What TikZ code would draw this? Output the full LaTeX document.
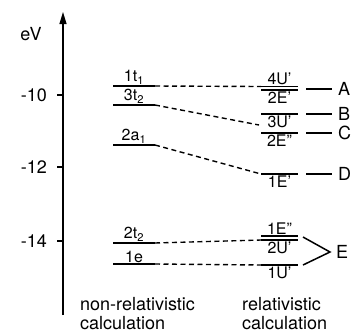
\documentclass[tikz,border=0pt]{standalone}
\usepackage{fontspec}
\setmainfont{TeX Gyre Heros}
\usetikzlibrary{arrows.meta}
\begin{document}
\begin{tikzpicture}[x=1pt,y=-1pt,
  level/.style={line width=1.5pt},
  conn/.style={line width=1.4pt, dash pattern=on 5pt off 3.5pt},
  lab/.style={font=\fontsize{16}{18}\selectfont, inner sep=1pt},
  big/.style={font=\fontsize{18}{20}\selectfont, inner sep=0pt},
  tick/.style={line width=1.2pt}]
\useasboundingbox (0,0) rectangle (351,333);
\clip (0,0) rectangle (351,333);
% axis
\coordinate (ab) at (63,315);
\coordinate (at) at (63,12);
\draw[line width=1.2pt, -{Triangle[length=12pt,width=7pt]}] (ab) -- (at);
\node[big] (ev) at (31,34) {eV};
\node[big, anchor=east] (t10) at (47,95) {-10};
\node[big, anchor=east] (t12) at (47,167) {-12};
\node[big, anchor=east] (t14) at (47,241) {-14};
\draw[tick] (57,95) -- (63,95);
\draw[tick] (57,167) -- (63,167);
\draw[tick] (57,241) -- (63,241);
% left levels
\foreach \n/\y in {a/86,b/105,c/145,d/243,e/264}{
  \coordinate (L\n1) at (113,\y);
  \coordinate (L\n2) at (155,\y);
}
\draw[level] (La1) -- (La2) node[lab, midway, above] (la) {1t\textsubscript{1}};
\draw[level] (Lb1) -- (Lb2) node[lab, midway, above] (lb) {3t\textsubscript{2}};
\draw[level] (Lc1) -- (Lc2) node[lab, midway, above] (lc) {2a\textsubscript{1}};
\draw[level] (Ld1) -- (Ld2) node[lab, midway, above] (ld) {2t\textsubscript{2}};
\draw[level] (Le1) -- (Le2) node[lab, midway, above] (le) {1e};
% right levels
\foreach \n/\y in {a/86.5,b/90,c/114,d/133,e/174,f/236,g/240,h/265}{
  \coordinate (R\n1) at (261,\y);
  \coordinate (R\n2) at (298,\y);
}
\draw[level] (Ra1) -- (Ra2) node[lab, midway, above] (ra) {4U'};
\draw[level] (Rb1) -- (Rb2) node[lab, midway, below] (rb) {2E'};
\draw[level] (Rc1) -- (Rc2) node[lab, midway, below] (rc) {3U'};
\draw[level] (Rd1) -- (Rd2) node[lab, midway, below] (rd) {2E"};
\draw[level] (Re1) -- (Re2) node[lab, midway, below] (re) {1E'};
\draw[level] (Rf1) -- (Rf2) node[lab, midway, above] (rf) {1E"};
\draw[level] (Rg1) -- (Rg2) node[lab, midway, below] (rg) {2U'};
\draw[level] (Rh1) -- (Rh2) node[lab, midway, below] (rh) {1U'};
% correlation lines
\coordinate (Cb) at (259,125);
\draw[conn] (La2) -- (Ra1);
\draw[conn] (Lb2) -- (Cb);
\draw[conn] (Lc2) -- (Re1);
\draw[conn] (Ld2) -- (Rg1);
\draw[conn] (Le2) -- (Rh1);
% assignments
\node[big, anchor=west] (A) at (338,89) {A};
\node[big, anchor=west] (B) at (338,114) {B};
\node[big, anchor=west] (C) at (338,133) {C};
\node[big, anchor=west] (D) at (338,174) {D};
\node[big, anchor=west] (E) at (336,252) {E};
\foreach \n/\y in {a/89,b/114,c/133,d/174}{
  \coordinate (S\n1) at (306,\y);
  \coordinate (S\n2) at (332,\y);
  \draw[level] (S\n1) -- (S\n2);
}
\coordinate (Et) at (303,237);
\coordinate (Em) at (330,252);
\coordinate (Eb) at (303,265);
\draw[level] (Et) -- (Em) -- (Eb);
% captions
\node[big, anchor=base west] (c1) at (80,310) {non-relativistic};
\node[big, anchor=base west] (c2) at (80,329) {calculation};
\node[big, anchor=base west] (c3) at (242,310) {relativistic};
\node[big, anchor=base west] (c4) at (242,329) {calculation};
\end{tikzpicture}
\end{document}
